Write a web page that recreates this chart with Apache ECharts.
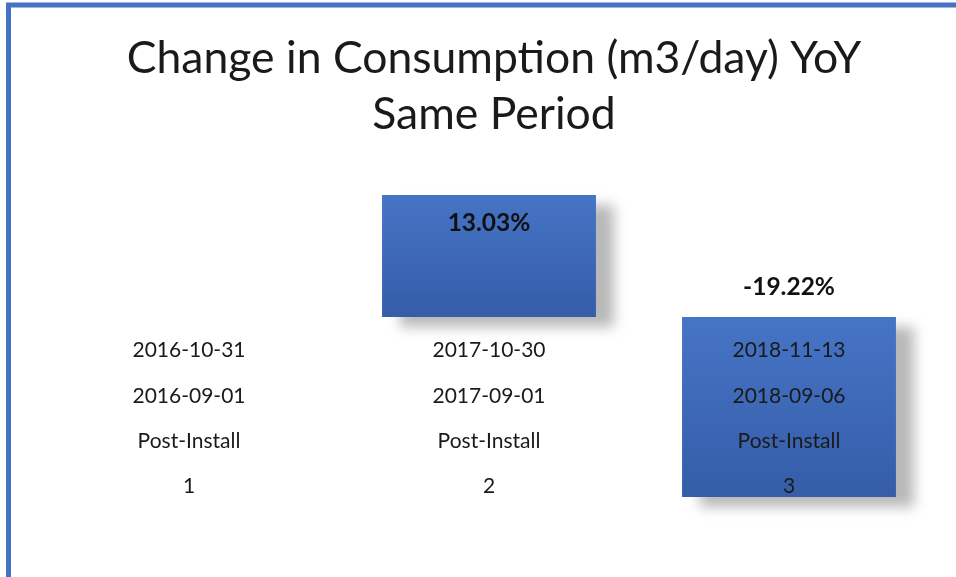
<!DOCTYPE html>
<html>
<head>
<meta charset="utf-8">
<script src="https://cdn.jsdelivr.net/npm/echarts@6/dist/echarts.min.js"></script>
<style>
html,body{margin:0;padding:0;background:#fff;}
#c{width:956px;height:577px;}
</style>
</head>
<body>
<div id="c"></div>
<script>
const titleLines = ['Change in Consumption (m3/day) YoY', 'Same Period'];
const periodEnd = ['2016-10-31', '2017-10-30', '2018-11-13'];
const periodStart = ['2016-09-01', '2017-09-01', '2018-09-06'];
const phase = ['Post-Install', 'Post-Install', 'Post-Install'];
const indexLabels = ['1', '2', '3'];
const changePct = [null, 13.03, -19.22];

const categories = indexLabels.map((d, i) => [periodEnd[i], periodStart[i], phase[i], d].join('\n'));

const Y_MIN = -20, Y_MAX = 15;
const GRID_TOP = 176.5, GRID_BOTTOM = 72.7, H = 577;
const gridH = H - GRID_TOP - GRID_BOTTOM;
const zeroOffset = -gridH * (0 - Y_MIN) / (Y_MAX - Y_MIN);

const chart = echarts.init(document.getElementById('c'));
const FONT = 'Lato';
chart.setOption({
  backgroundColor: '#fff',
  animation: false,
  title: {
    text: titleLines.join('\n'),
    left: 489,
    top: 26,
    textAlign: 'center',
    textStyle: { fontFamily: FONT, fontSize: 44.5, fontWeight: 'normal', color: '#1a1a1a', lineHeight: 56 }
  },
  graphic: [{
    type: 'rect',
    shape: { x: 8.5, y: 5, width: 2000, height: 2000 },
    style: { fill: 'none', stroke: '#4472C4', lineWidth: 5 },
    z: 100
  }],
  grid: { left: 39, right: 17, top: GRID_TOP, bottom: GRID_BOTTOM, containLabel: false, outerBoundsMode: 'none' },
  xAxis: {
    type: 'category',
    data: categories,
    z: 10,
    offset: zeroOffset,
    axisLine: { show: false, onZero: false },
    axisTick: { show: false },
    axisLabel: {
      interval: 0,
      margin: 11,
      fontFamily: FONT,
      fontSize: 21,
      color: '#1a1a1a',
      lineHeight: 45.3
    }
  },
  yAxis: {
    type: 'value',
    min: Y_MIN,
    max: Y_MAX,
    show: false,
    splitLine: { show: false }
  },
  series: [{
    type: 'bar',
    barWidth: '71.3%',
    data: changePct.map(v => ({
      value: v,
      label: v !== null && v < 0
        ? { position: 'top', distance: 17 }
        : { position: 'insideTop', distance: 16 }
    })),
    itemStyle: {
      color: new echarts.graphic.LinearGradient(0, 0, 0, 1, [
        { offset: 0, color: '#4674C6' },
        { offset: 1, color: '#355DA8' }
      ]),
      shadowColor: 'rgba(0,0,0,0.28)',
      shadowBlur: 12,
      shadowOffsetX: 18,
      shadowOffsetY: 10
    },
    label: {
      show: true,
      fontFamily: FONT,
      fontWeight: 'bold',
      fontSize: 24.5,
      color: '#111',
      formatter: p => p.value.toFixed(2) + '%'
    }
  }]
});
</script>
</body>
</html>
